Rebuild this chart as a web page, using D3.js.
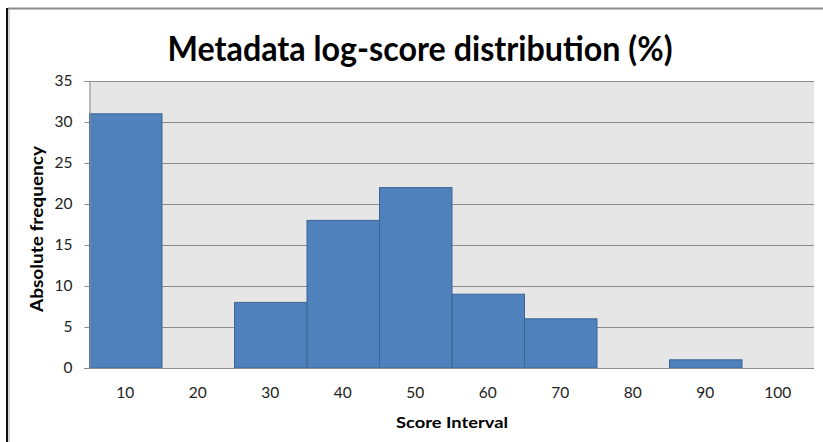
<!DOCTYPE html>
<html><head><meta charset="utf-8">
<script src="https://cdn.jsdelivr.net/npm/d3@7"></script>
<style>body{margin:0;background:#fff}svg{display:block}</style>
</head><body>
<script>
const categories = ["10","20","30","40","50","60","70","80","90","100"];
const values = [31, 0, 8, 18, 22, 9, 6, 0, 1, 0];
const yTicks = [0,5,10,15,20,25,30,35];
const titleText = "Metadata log-score distribution (%)";
const xTitle = "Score Interval";
const yTitle = "Absolute frequency";

const W = 823, H = 442;
const m = {left:89, right:9, top:81, bottom:74};
const svg = d3.select("body").append("svg").attr("width",W).attr("height",H);
const font = "Lato, 'Open Sans', sans-serif";

// outer border
svg.append("line").attr("x1",7).attr("x2",7).attr("y1",8).attr("y2",H).attr("stroke","#111").attr("stroke-width",2);
svg.append("line").attr("x1",8).attr("x2",W).attr("y1",8.5).attr("y2",8.5).attr("stroke","#8a8a8a").attr("stroke-width",2);
svg.append("line").attr("x1",9).attr("x2",9).attr("y1",9).attr("y2",H).attr("stroke","#aaa").attr("stroke-width",1);

const x = d3.scaleBand().domain(categories).range([m.left, W-m.right]).padding(0);
const y = d3.scaleLinear().domain([0,35]).range([H-m.bottom, m.top]);

svg.append("rect").attr("x",m.left).attr("y",m.top).attr("width",W-m.right-m.left).attr("height",H-m.bottom-m.top).attr("fill","#e6e6e6");

// gridlines
svg.append("g").selectAll("line").data(yTicks.filter(d=>d>0)).join("line")
  .attr("x1",m.left).attr("x2",W-m.right).attr("y1",d=>Math.round(y(d))+0.5).attr("y2",d=>Math.round(y(d))+0.5)
  .attr("stroke","#8c8c8c").attr("stroke-width",1);

// bars
svg.append("g").selectAll("rect").data(values.map((v,i)=>({c:categories[i],v}))).join("rect")
  .attr("x",d=>x(d.c)+0.5).attr("width",x.bandwidth())
  .attr("y",d=>y(d.v)).attr("height",d=>y(0)-y(d.v))
  .attr("fill","#4f81bd").attr("stroke","#3c6696").attr("stroke-width",1)
  .style("display",d=>d.v>0?null:"none");

// y axis
const yAxis = d3.axisLeft(y).tickValues(yTicks).tickSize(5).tickPadding(12);
const gy = svg.append("g").attr("transform",`translate(${m.left+0.5},0)`).call(yAxis);
gy.select(".domain").attr("stroke","#8c8c8c");
gy.selectAll(".tick line").attr("stroke","#8c8c8c");
gy.selectAll("text").attr("font-family",font).attr("font-size",15.5).attr("fill","#222");

// x axis
const xAxis = d3.axisBottom(x).tickSize(0).tickPadding(18);
const gx = svg.append("g").attr("transform",`translate(0,${H-m.bottom+0.5})`).call(xAxis);
gx.select(".domain").attr("stroke","#8c8c8c").attr("d",`M${m.left-5},0H${W-m.right}`);
gx.selectAll("text").attr("font-family",font).attr("font-size",15.5).attr("fill","#222");

// titles
svg.append("text").attr("x",420).attr("y",61).attr("text-anchor","middle")
  .attr("font-family",font).attr("font-weight","bold").attr("font-size",34)
  .attr("textLength",505).attr("lengthAdjust","spacingAndGlyphs").attr("fill","#000").text(titleText);
svg.append("text").attr("x",452).attr("y",428).attr("text-anchor","middle")
  .attr("font-family",font).attr("font-weight","bold").attr("font-size",16)
  .attr("textLength",112).attr("lengthAdjust","spacingAndGlyphs").attr("fill","#000").text(xTitle);
svg.append("text").attr("transform","translate(43,229) rotate(-90)").attr("text-anchor","middle")
  .attr("font-family",font).attr("font-weight","bold").attr("font-size",16.5)
  .attr("textLength",166).attr("lengthAdjust","spacingAndGlyphs").attr("fill","#000").text(yTitle);
</script>
</body></html>
